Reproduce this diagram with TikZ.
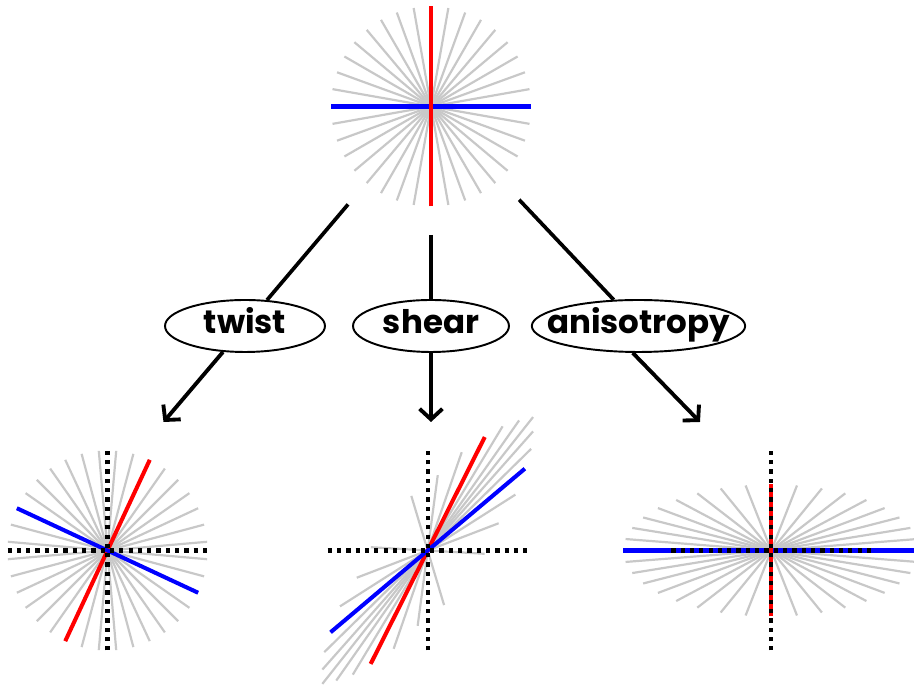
\documentclass[tikz,border=0pt]{standalone}
\usepackage{fontspec}
\setmainfont{Poppins}
\usetikzlibrary{shapes.geometric, arrows.meta}
\definecolor{RayGray}{RGB}{200, 200, 200}
\definecolor{AxisRed}{RGB}{255, 0, 0}
\definecolor{AxisBlue}{RGB}{0, 0, 255}

\begin{document}
\begin{tikzpicture}[
    x=0.02cm, y=0.02cm,
    font=\bfseries\fontsize{18.5}{20}\selectfont,
    ray/.style={RayGray, line width=1.25pt},
    redline/.style={AxisRed, line width=2.3pt},
    blueline/.style={AxisBlue, line width=2.3pt},
    refaxis/.style={black, line width=2.4pt, dash pattern=on 2.4pt off 2.9pt},
    opname/.style={ellipse, draw, line width=1.1pt, fill=white, minimum width=3.2cm, minimum height=1.04cm, inner xsep=-0.32cm, inner ysep=0pt, text height=0.9em, text depth=0pt},
    link/.style={line width=2.1pt},
    arr/.style={-{Straight Barb[length=6pt, width=13pt]}, line width=2.2pt}
]
\useasboundingbox (0,0) rectangle (914,686);

% undeformed star
\begin{scope}[shift={(431,579.5)}]
  \foreach \a in {0,10,...,170}
    \draw[ray] (\a:-100) -- (\a:100);
  \draw[blueline] (-100,0) -- (100,0);
  \draw[redline] (0,-100) -- (0,100);
\end{scope}
\node[circle, minimum size=5.12cm, inner sep=0pt] (orig) at (431,579.5) {};

% twist
\begin{scope}[shift={(107.5,135.5)}, rotate=-25]
  \foreach \a in {0,10,...,170}
    \draw[ray] (\a:-100) -- (\a:100);
  \draw[redline] (0,-100) -- (0,100);
  \draw[blueline] (-100,0) -- (100,0);
\end{scope}

% shear
\begin{scope}[shift={(427.7,135.5)}, rotate=51.7]
  \foreach \p/\r in {0/170, 3.2/159, -3.2/159, 7.2/145, -7.2/145, 11.6/127, -11.6/127,
                     19.2/104, -19.2/104, 30.7/76, -30.7/76, 55/57, -55/57}
    \draw[ray] (\p:-\r) -- (\p:\r);
  \draw[redline] (11.6:-127) -- (11.6:127);
  \draw[blueline] (-11.6:-127) -- (-11.6:127);
\end{scope}

% anisotropy
\begin{scope}[shift={(771.3,135.5)}, xscale=1.48, yscale=0.66]
  \foreach \a in {0,10,...,170}
    \draw[ray] (\a:-100) -- (\a:100);
  \draw[blueline] (-100,0) -- (100,0);
  \draw[redline] (0,-100) -- (0,100);
\end{scope}

% reference axes
\foreach \cx in {107.5, 427.7, 771.3} {
  \draw[refaxis] (\cx-100,135.5) -- (\cx+100,135.5);
  \draw[refaxis] (\cx,35.5) -- (\cx,235.5);
}

\node[opname] (twist) at (245,360) {twist};
\node[opname, minimum width=3.12cm] (shear) at (431,360) {shear};
\node[opname, minimum width=4.14cm] (aniso) at (638.5,360) {anisotropy};

\coordinate (ttip) at (163.5,264);
\coordinate (stip) at (431,264);
\coordinate (atip) at (700,264);

\draw[link] (orig) -- (twist);
\draw[arr] (twist) -- (ttip);
\draw[link] (orig) -- (shear);
\draw[arr] (shear) -- (stip);
\draw[link] (orig) -- (aniso);
\draw[arr] (aniso.258) -- (atip);

\end{tikzpicture}
\end{document}
